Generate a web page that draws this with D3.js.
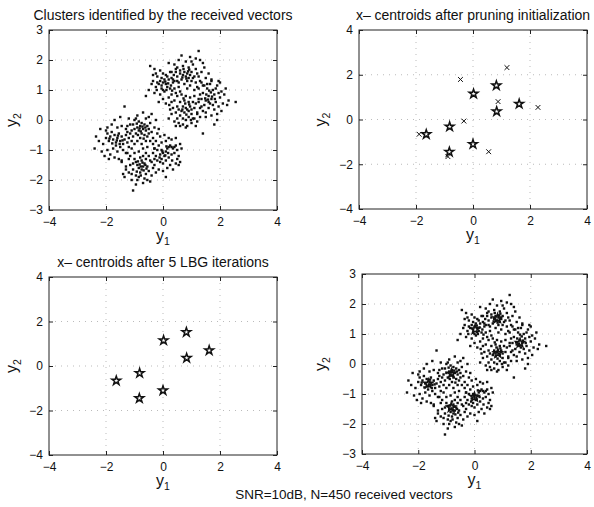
<!DOCTYPE html>
<html><head><meta charset="utf-8">
<script src="https://cdn.jsdelivr.net/npm/d3@7"></script>
<style>body{margin:0;background:#fff}svg{display:block}text{font-family:"Liberation Sans",Arial,sans-serif;fill:#111}</style>
</head><body><svg id="c" width="594" height="507"></svg>
<script>
// received vectors (y1, y2)
const receivedVectors = [
[-0.45,1.8],[-0.3,1.7],[-0.2,1.45],[-0.1,1.3],[0,1.25],[0.1,1.2],[0.15,1.1],[-0.05,1.05],[0.05,0.95],[0.2,1.35],[0.3,1.4],[-0.15,1.2],[-0.25,1.1],[-0.35,1.3],[0.1,1.5],[0.25,1.6],[0.35,1.25],[0.4,1.05],[0.45,0.9],[0.3,0.85],[0.2,0.75],[0.0,0.7],[-0.1,0.85],[-0.3,0.9],[-0.5,1.0],[-0.6,0.8],[-0.05,1.4],[0.15,1.45],[0.05,1.35],[-0.2,1.25],[0.12,1.0],[0.28,1.15],[0.38,1.5],[0.45,1.7],[0.2,1.9],[-0.1,1.65],[0.0,1.55],[-0.35,1.5],[-0.15,0.6],[0.1,0.55],[0.3,0.6],[0.5,1.3],[0.55,1.1],[-0.05,1.15],[0.08,1.28],[0.18,1.22],[-0.22,1.0],[0.32,0.98],[0.22,0.5],[-0.4,1.2],[0.6,0.95],[-0.25,1.55],[0.4,1.3],[0.0,1.0],[0.25,1.05],
[1.25,2.3],[0.65,2.15],[0.95,2.1],[1.3,2.0],[0.55,2.0],[0.8,1.95],[1.05,1.85],[0.7,1.8],[0.9,1.75],[1.15,1.7],[0.6,1.65],[0.75,1.6],[0.85,1.55],[0.95,1.5],[1.0,1.6],[0.7,1.5],[0.8,1.45],[0.9,1.4],[1.1,1.45],[1.2,1.55],[1.35,1.6],[1.45,1.75],[1.5,1.4],[1.3,1.3],[1.15,1.25],[1.0,1.3],[0.85,1.3],[0.65,1.35],[0.5,1.45],[0.45,1.6],[0.4,1.85],[0.55,1.25],[0.75,1.2],[0.95,1.15],[1.2,1.1],[1.4,1.15],[0.6,1.55],[0.72,1.7],[0.88,1.62],[1.05,1.4],[1.25,1.45],[1.6,1.55],[1.7,1.3],[0.35,1.35],[0.5,1.75],[1.0,1.95],[1.15,2.05],[0.82,1.38],[0.92,1.68],[0.68,1.42],[1.4,1.9],[0.3,1.6],[1.1,1.0],[0.85,1.05],[1.55,1.2],
[2.55,0.6],[2.3,0.65],[2.25,0.5],[2.0,1.25],[1.9,1.15],[1.95,0.9],[2.0,0.75],[1.85,0.6],[1.7,0.7],[1.6,0.8],[1.5,0.65],[1.65,0.55],[1.8,0.85],[1.75,1.0],[1.55,1.05],[1.4,0.9],[1.35,0.7],[1.45,0.5],[1.6,0.4],[1.8,0.35],[1.95,0.45],[2.1,0.55],[2.05,0.95],[1.9,0.2],[1.7,0.15],[1.5,0.25],[1.3,0.4],[1.25,0.6],[1.3,0.85],[1.45,1.15],[1.65,1.2],[1.85,1.05],[1.72,0.78],[1.58,0.68],[1.68,0.92],[1.82,0.7],[1.52,0.85],[1.4,0.3],[1.9,0.0],[1.8,-0.15],[1.4,-0.45],[2.15,0.85],[2.2,1.05],[1.25,1.05],[1.6,0.6],[1.75,0.5],[1.5,0.1],[1.95,1.3],[1.35,1.25],[1.62,0.98],[1.48,0.72],[1.2,0.2],[2.05,0.3],[1.7,1.35],
[0.85,0.35],[0.8,0.4],[0.9,0.3],[0.75,0.25],[0.95,0.45],[1.0,0.35],[0.7,0.45],[0.65,0.3],[0.6,0.15],[0.7,0.05],[0.8,0.0],[0.9,0.1],[1.0,0.2],[1.1,0.4],[1.15,0.55],[1.05,0.6],[0.9,0.6],[0.75,0.65],[0.6,0.6],[0.5,0.45],[0.45,0.25],[0.5,0.05],[0.55,-0.1],[0.7,-0.15],[0.85,-0.2],[1.0,-0.1],[1.1,0.05],[1.2,0.25],[0.4,0.65],[0.35,0.4],[0.3,0.2],[0.4,-0.05],[0.6,-0.2],[0.8,-0.25],[1.2,-0.05],[1.3,0.1],[0.95,0.75],[0.8,0.8],[1.1,0.8],[1.25,0.7],[0.65,0.85],[0.5,0.8],[0.82,0.18],[0.92,0.52],[0.68,0.35],[1.05,0.05],[0.55,0.35],[0.78,0.55],[0.98,0.0],[1.15,-0.2],[0.45,-0.2],[0.25,0.35],[0.72,0.72],[1.35,0.45],[0.2,0.05],
[-2.35,-0.55],[-2.4,-0.95],[-2.2,-0.3],[-2.1,-0.8],[-2.0,-0.6],[-1.95,-0.45],[-1.9,-0.7],[-1.85,-0.55],[-1.8,-0.4],[-1.75,-0.65],[-1.7,-0.5],[-1.65,-0.75],[-1.6,-0.6],[-1.55,-0.45],[-1.5,-0.7],[-1.45,-0.55],[-1.4,-0.8],[-1.35,-0.65],[-1.3,-0.5],[-1.25,-0.75],[-1.95,-1.0],[-1.85,-1.15],[-1.75,-0.95],[-1.6,-1.05],[-1.5,-0.9],[-1.4,-1.0],[-1.3,-1.1],[-1.2,-0.9],[-2.05,-1.2],[-1.9,-1.3],[-1.7,-1.25],[-1.55,-1.3],[-1.95,-0.25],[-1.8,-0.15],[-1.6,-0.25],[-1.45,-0.2],[-1.3,-0.3],[-1.15,-0.45],[-1.5,0.1],[-1.35,0.45],[-1.65,-0.85],[-1.78,-0.78],[-1.88,-0.62],[-1.58,-0.52],[-1.42,-0.68],[-2.25,-0.7],[-2.15,-1.05],[-1.1,-0.7],[-1.15,-1.2],[-1.45,-1.4],[-1.25,-0.2],[-1.7,0.0],[-2.0,-0.35],[-1.62,-0.68],[-1.52,-0.8],
[-0.7,0.25],[-0.9,0.15],[-1.0,0.0],[-0.85,-0.05],[-0.75,-0.1],[-0.65,-0.15],[-0.55,-0.2],[-0.8,-0.2],[-0.9,-0.25],[-1.0,-0.3],[-0.7,-0.3],[-0.6,-0.35],[-0.5,-0.3],[-0.85,-0.35],[-0.95,-0.45],[-0.75,-0.45],[-0.65,-0.5],[-0.55,-0.55],[-1.05,-0.55],[-1.1,-0.35],[-1.15,-0.15],[-0.45,-0.1],[-0.4,-0.4],[-0.35,-0.6],[-0.45,-0.7],[-0.6,-0.7],[-0.8,-0.6],[-0.9,-0.7],[-1.0,-0.8],[-1.2,-0.6],[-0.3,-0.25],[-0.25,0.0],[-0.5,0.1],[-0.6,0.05],[-1.2,0.05],[-0.82,-0.28],[-0.72,-0.22],[-0.92,-0.12],[-0.62,-0.25],[-0.78,-0.38],[-0.88,-0.5],[-0.68,-0.62],[-0.5,-0.45],[-1.05,-0.15],[-0.35,-0.8],[-0.2,-0.45],[-0.75,-0.8],[-1.25,-0.4],[-0.95,0.05],[-0.55,-0.9],[-0.3,-0.95],[-0.4,0.2],[-0.15,-0.3],[-1.1,-0.95],[-0.7,-0.95],
[-1.05,-2.35],[-0.95,-2.15],[-0.9,-2.0],[-0.85,-1.9],[-0.8,-1.75],[-0.75,-1.65],[-0.7,-1.55],[-0.65,-1.45],[-0.85,-1.6],[-0.9,-1.5],[-0.95,-1.4],[-1.0,-1.3],[-0.75,-1.35],[-0.8,-1.25],[-0.7,-1.2],[-0.6,-1.3],[-0.55,-1.55],[-0.5,-1.7],[-0.6,-1.8],[-1.05,-1.65],[-1.1,-1.8],[-1.2,-1.75],[-1.15,-1.5],[-1.2,-1.3],[-1.3,-1.55],[-1.4,-1.8],[-1.35,-1.9],[-0.45,-1.35],[-0.4,-1.85],[-0.35,-1.6],[-0.65,-1.95],[-0.7,-2.1],[-0.55,-2.0],[-0.82,-1.48],[-0.72,-1.42],[-0.88,-1.38],[-0.78,-1.55],[-0.68,-1.68],[-0.92,-1.72],[-1.0,-1.1],[-0.85,-1.05],[-0.6,-1.1],[-1.25,-1.1],[-1.45,-1.35],[-0.3,-1.3],[-0.25,-1.75],[-0.45,-2.05],[-1.1,-2.0],[-0.95,-1.85],[-0.58,-1.62],[-0.78,-1.85],[-1.05,-1.45],[-0.62,-1.5],[-0.5,-1.2],[-1.3,-1.65],
[0.0,-1.1],[-0.05,-1.0],[0.05,-1.2],[-0.1,-1.15],[0.1,-1.05],[0.15,-0.95],[0.2,-0.9],[0.25,-0.85],[0.3,-0.9],[0.35,-0.95],[0.4,-0.9],[0.5,-1.0],[0.55,-1.2],[0.6,-1.4],[0.5,-1.3],[0.45,-0.85],[0.3,-0.65],[0.2,-0.6],[0.1,-0.7],[-0.05,-0.75],[-0.15,-0.85],[-0.2,-1.0],[-0.25,-1.2],[-0.2,-1.35],[-0.1,-1.4],[0.0,-1.45],[0.1,-1.35],[0.2,-1.25],[0.25,-1.5],[0.15,-1.6],[0.0,-1.7],[-0.15,-1.65],[-0.3,-1.5],[0.35,-1.65],[0.3,-1.15],[-0.02,-1.05],[0.08,-1.18],[-0.12,-1.25],[0.12,-0.88],[0.4,-1.1],[-0.3,-0.95],[-0.35,-1.1],[0.65,-0.95],[0.45,-0.6],[0.05,-0.5],[-0.1,-0.55],[-0.25,-0.7],[0.55,-1.5],[0.45,-1.45],[-0.05,-1.3],[0.18,-1.1],[0.32,-1.35],[0.6,-0.8],[-0.4,-1.4],[0.1,-1.9]
];
// initial centroids after pruning (x markers)
const prunedCentroids = [[1.19,2.32],[-0.44,1.79],[0.88,0.80],[2.28,0.54],[-0.32,-0.07],[-1.89,-0.66],[0.55,-1.44],[-0.88,-1.66]];
// final centroids (stars)
const finalCentroids = [[0.82,1.52],[0.02,1.15],[1.62,0.70],[0.83,0.36],[-0.82,-0.32],[-1.64,-0.66],[0.0,-1.10],[-0.83,-1.45]];
const xTicks = [-4,-2,0,2,4];
const yTicks3 = [-3,-2,-1,0,1,2,3];
const yTicks4 = [-4,-2,0,2,4];
const titles = ["Clusters identified by the received vectors","x\u2013 centroids after pruning initialization","x\u2013 centroids after 5 LBG iterations",""];
const caption = "SNR=10dB, N=450 received vectors";

const svg = d3.select("#c");
const panels = [
  {l:49,r:277,t:30,b:210,ymax:3,yt:yTicks3,title:titles[0],pts:true,xs:false,stars:false,starFill:"#fff",ylx:17},
  {l:359,r:587,t:30,b:209,ymax:4,yt:yTicks4,title:titles[1],pts:false,xs:true,stars:true,starFill:"#fff",ylx:326},
  {l:49,r:277,t:277,b:455,ymax:4,yt:yTicks4,title:titles[2],pts:false,xs:false,stars:true,starFill:"#fff",ylx:17},
  {l:362,r:587,t:274,b:454,ymax:3,yt:yTicks3,title:titles[3],pts:true,xs:false,stars:true,starFill:"none",ylx:326}
];
const starPath = d3.symbol().type(d3.symbolStar).size(24)();
panels.forEach(p=>{
  const x = d3.scaleLinear().domain([-4,4]).range([p.l,p.r]);
  const y = d3.scaleLinear().domain([-p.ymax,p.ymax]).range([p.b,p.t]);
  const g = svg.append("g");
  // grid
  g.append("g").selectAll("line").data(xTicks.slice(1,-1)).join("line")
    .attr("x1",d=>x(d)).attr("x2",d=>x(d)).attr("y1",p.t).attr("y2",p.b)
    .attr("stroke","#aaa").attr("stroke-width",0.8).attr("stroke-dasharray","1,5");
  g.append("g").selectAll("line").data(p.yt.slice(1,-1)).join("line")
    .attr("y1",d=>y(d)).attr("y2",d=>y(d)).attr("x1",p.l).attr("x2",p.r)
    .attr("stroke","#aaa").attr("stroke-width",0.8).attr("stroke-dasharray","1,5");
  // axes
  const ax = g.append("g").attr("transform",`translate(0,${p.b})`)
    .call(d3.axisBottom(x).tickValues(xTicks).tickSizeInner(-4).tickSizeOuter(0).tickPadding(7).tickFormat(d=>d<0?"\u2212"+(-d):d));
  const ay = g.append("g").attr("transform",`translate(${p.l},0)`)
    .call(d3.axisLeft(y).tickValues(p.yt).tickSizeInner(-4).tickSizeOuter(0).tickPadding(6).tickFormat(d=>d<0?"\u2212"+(-d):d));
  const axT = g.append("g").attr("transform",`translate(0,${p.t})`)
    .call(d3.axisTop(x).tickValues(xTicks).tickSizeInner(-4).tickSizeOuter(0).tickFormat(""));
  const ayR = g.append("g").attr("transform",`translate(${p.r},0)`)
    .call(d3.axisRight(y).tickValues(p.yt).tickSizeInner(-4).tickSizeOuter(0).tickFormat(""));
  [ax,ay,axT,ayR].forEach(a=>{a.select(".domain").remove();a.selectAll("line").attr("stroke","#222");a.selectAll("text").attr("font-size",12).attr("font-family","Liberation Sans, Arial").attr("fill","#111");});
  g.append("rect").attr("x",p.l).attr("y",p.t).attr("width",p.r-p.l).attr("height",p.b-p.t)
    .attr("fill","none").attr("stroke","#222").attr("stroke-width",1);
  // data
  if(p.pts){
    g.append("g").selectAll("rect").data(receivedVectors).join("rect")
      .attr("x",d=>x(d[0])-1.2).attr("y",d=>y(d[1])-1.2).attr("width",2.4).attr("height",2.4).attr("fill","#111");
  }
  if(p.xs){
    const s=2.4;
    g.append("g").selectAll("path").data(prunedCentroids).join("path")
      .attr("d",d=>`M${x(d[0])-s},${y(d[1])-s}L${x(d[0])+s},${y(d[1])+s}M${x(d[0])-s},${y(d[1])+s}L${x(d[0])+s},${y(d[1])-s}`)
      .attr("stroke","#111").attr("stroke-width",1);
  }
  if(p.stars){
    g.append("g").selectAll("path").data(finalCentroids).join("path")
      .attr("d",starPath).attr("transform",d=>`translate(${x(d[0])},${y(d[1])})`)
      .attr("fill",p.starFill).attr("stroke","#111").attr("stroke-width",1.5);
  }
  // titles and labels
  if(p.title) g.append("text").attr("x",(p.l+p.r)/2).attr("y",p.t-10).attr("text-anchor","middle").attr("font-size",14).text(p.title);
  const xl = g.append("text").attr("x",(p.l+p.r)/2).attr("y",p.b+31).attr("text-anchor","middle").attr("font-size",16);
  xl.append("tspan").text("y");
  xl.append("tspan").attr("font-size",10.5).attr("dy",4).text("1");
  const yl = g.append("text").attr("transform",`translate(${p.ylx},${(p.t+p.b)/2}) rotate(-90)`).attr("text-anchor","middle").attr("font-size",16);
  yl.append("tspan").text("y");
  yl.append("tspan").attr("font-size",10.5).attr("dy",4).text("2");
});
svg.append("text").attr("x",344).attr("y",499).attr("text-anchor","middle").attr("font-size",13.5).text(caption);
</script></body></html>
